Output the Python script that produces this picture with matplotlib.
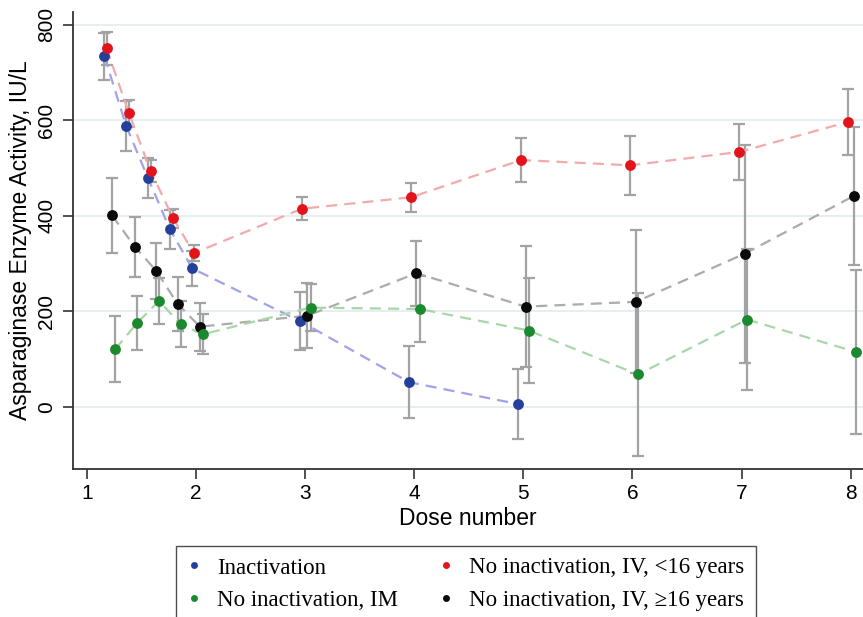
import matplotlib
matplotlib.use("Agg")
import matplotlib.pyplot as plt
from matplotlib.lines import Line2D

# dose number (with the small offsets used in the figure) and activity, IU/L
inact_x = [1.16, 1.36, 1.56, 1.76, 1.965, 2.95, 3.95, 4.95]
inact_y = [734, 588, 479, 372, 290, 180, 52, 6]
inact_err = [50, 53, 42, 41, 36, 60, 75, 73]

iv_young_x = [1.18, 1.385, 1.584, 1.79, 1.98, 2.97, 3.97, 4.98, 5.98, 6.98, 7.98]
iv_young_y = [751, 615, 494, 395, 322, 415, 439, 517, 506, 534, 597]
iv_young_err = [34, 28, 23, 20, 17, 24, 30, 46, 62, 59, 69]

iv_old_x = [1.23, 1.44, 1.635, 1.83, 2.035, 3.02, 4.02, 5.02, 6.03, 7.03, 8.03]
iv_old_y = [401, 335, 285, 216, 168, 191, 280, 210, 220, 321, 442]
iv_old_err = [79, 62, 58, 56, 50, 68, 68, 127, 150, 228, 144]

im_x = [1.26, 1.46, 1.66, 1.86, 2.06, 3.05, 4.05, 5.05, 6.05, 7.05, 8.05]
im_y = [121, 176, 222, 173, 152, 208, 205, 160, 68, 183, 115]
im_err = [69, 56, 49, 48, 42, 50, 70, 110, 170, 147, 171]

x_ticks = [1, 2, 3, 4, 5, 6, 7, 8]
y_ticks = [0, 200, 400, 600, 800]

labels = [
    "Inactivation",
    "No inactivation, IM",
    "No inactivation, IV, <16 years",
    "No inactivation, IV, \u226516 years",
]

plt.rcParams["font.family"] = ["Liberation Sans", "DejaVu Sans"]

fig = plt.figure(figsize=(8.63, 6.17), dpi=100)
ax = fig.add_axes([73 / 863, 1 - 469 / 617, 1 - 73 / 863, (469 - 12) / 617])

series = [
    (inact_x, inact_y, inact_err, "#24409a", "#a0a2ea"),
    (iv_young_x, iv_young_y, iv_young_err, "#e3131b", "#f3aaac"),
    (iv_old_x, iv_old_y, iv_old_err, "#0a0a0a", "#ababab"),
    (im_x, im_y, im_err, "#1b8a2f", "#a9d6a9"),
]

for x, y, err, color, light in series:
    ax.errorbar(x, y, yerr=err, fmt="none", ecolor="#a3a3a3",
                elinewidth=1.6, capsize=4.5, capthick=1.6, zorder=2)
for x, y, err, color, light in series:
    ax.plot(x, y, linestyle=(0, (5, 3.2)), color=light, linewidth=1.6, zorder=3)
for x, y, err, color, light in series:
    ax.plot(x, y, "o", color=color, markersize=7.8, markeredgewidth=0, zorder=4)

ax.set_xlim(0.872, 8.113)
ax.set_ylim(-130, 827)
ax.set_xticks(x_ticks)
ax.set_yticks(y_ticks)
ax.set_yticklabels([str(v) for v in y_ticks], rotation=90, va="center")
ax.tick_params(axis="both", direction="out", length=7, width=1.2,
               labelsize=15, color="#333333", pad=4)
ax.tick_params(axis="y", pad=5)

ax.grid(axis="y", color="#e7eef2", linewidth=1.4, zorder=0)
ax.set_axisbelow(True)

for side in ["top", "right"]:
    ax.spines[side].set_visible(False)
for side in ["left", "bottom"]:
    ax.spines[side].set_linewidth(1.3)
    ax.spines[side].set_color("#333333")

ax.set_xlabel("Dose number", fontsize=16.5, labelpad=3)
ax.set_ylabel("Asparaginase Enzyme Activity, IU/L", fontsize=16.5, labelpad=4)

handles = [
    Line2D([], [], marker="o", linestyle="none", color=c, markersize=5, markeredgewidth=0)
    for c in ["#24409a", "#1b8a2f", "#e3131b", "#0a0a0a"]
]
leg = fig.legend(handles, labels, ncol=2, loc="upper left",
                 bbox_to_anchor=(176 / 863, 1 - 546 / 617), borderaxespad=0,
                 prop={"family": ["Liberation Serif"], "size": 16.5},
                 frameon=True, fancybox=False, edgecolor="#222222",
                 handlelength=0.6, handletextpad=0.7, columnspacing=1.8,
                 labelspacing=0.48, borderpad=0.5)
leg.get_frame().set_linewidth(1.0)

fig.savefig("out.png", dpi=100)
